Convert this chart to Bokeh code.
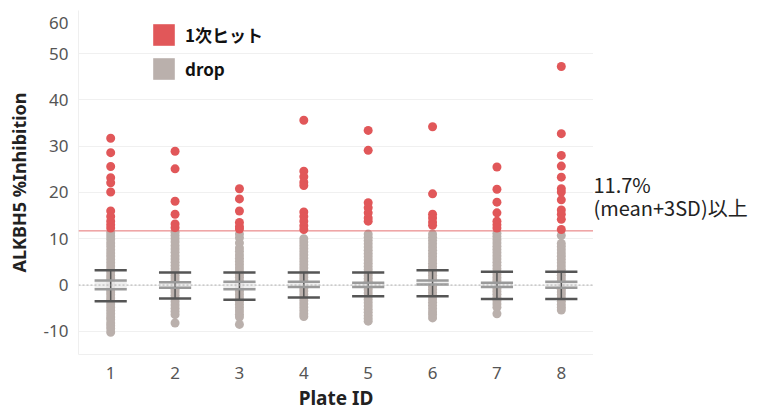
from bokeh.plotting import figure
from bokeh.layouts import row
from bokeh.models import (ColumnDataSource, FixedTicker, Span, Label, Legend, LegendItem, Range1d)
from bokeh.embed import file_html
from bokeh.resources import INLINE

# ---------------- data ----------------
plates = [1, 2, 3, 4, 5, 6, 7, 8]
threshold = 11.7

hit_values = {
    1: [31.7, 28.6, 25.6, 23.2, 22.1, 20.1, 16.0, 14.8, 13.8, 13.0, 12.3],
    2: [28.9, 25.1, 18.1, 15.3, 13.2, 12.4],
    3: [20.8, 18.6, 16.0, 13.5, 12.6, 12.1],
    4: [35.6, 24.6, 23.4, 22.2, 21.5, 15.8, 14.8, 13.8, 12.8, 12.0],
    5: [33.4, 29.1, 17.8, 16.7, 15.6, 14.5, 13.8],
    6: [34.2, 19.7, 15.3, 14.5, 13.6, 12.9],
    7: [25.5, 20.7, 17.9, 15.6, 13.8, 13.0, 12.3],
    8: [47.2, 32.7, 28.0, 25.7, 23.3, 20.8, 20.1, 18.4, 16.2, 15.3, 14.2, 12.0],
}

drop_values = {
    1: [11.3, 10.6, 9.9, 9.1, 8.4, 7.6, 6.9, 6.2, 5.5, 4.8, 4.1, 3.4, 2.8, 2.1, 1.5, 0.9, 0.3,
        -0.3, -0.9, -1.5, -2.1, -2.8, -3.4, -4.1, -4.8, -5.5, -6.2, -6.9, -7.4, -8.2, -8.8, -9.4, -10.2],
    2: [11.4, 10.7, 10.0, 9.3, 8.5, 7.8, 7.1, 6.3, 5.6, 4.9, 4.2, 3.5, 2.8, 2.1, 1.5, 0.9, 0.3,
        -0.3, -0.9, -1.5, -2.2, -2.9, -3.6, -4.3, -5.0, -5.7, -6.4, -8.2],
    3: [11.0, 10.2, 9.1, 8.0, 7.3, 6.5, 5.8, 5.1, 4.4, 3.7, 3.0, 2.3, 1.7, 1.0, 0.4, -0.2, -0.8,
        -1.4, -2.1, -2.8, -3.5, -4.2, -4.9, -5.6, -6.3, -6.9, -8.5],
    4: [10.0, 9.3, 8.6, 7.9, 7.2, 6.5, 5.8, 5.1, 4.4, 3.7, 3.0, 2.3, 1.7, 1.1, 0.5, -0.1, -0.7,
        -1.3, -2.0, -2.7, -3.4, -4.1, -4.8, -5.5, -6.2, -6.8],
    5: [11.0, 10.3, 9.6, 8.9, 8.2, 7.5, 6.8, 6.1, 5.4, 4.7, 4.0, 3.3, 2.6, 2.0, 1.4, 0.8, 0.2,
        -0.4, -1.0, -1.7, -2.4, -3.1, -3.8, -4.5, -5.2, -5.9, -6.6, -7.2, -7.8],
    6: [11.0, 10.3, 9.6, 8.9, 8.2, 7.5, 6.8, 6.1, 5.4, 4.7, 4.0, 3.3, 2.7, 2.1, 1.5, 0.9, 0.3,
        -0.3, -0.9, -1.6, -2.3, -3.0, -3.7, -4.4, -5.1, -5.8, -6.4, -7.1],
    7: [11.2, 10.5, 9.8, 9.1, 8.4, 7.7, 7.0, 6.3, 5.6, 4.9, 4.2, 3.5, 2.8, 2.2, 1.6, 1.0, 0.4,
        -0.2, -0.8, -1.4, -2.0, -2.7, -3.4, -4.1, -4.8, -6.2],
    8: [10.7, 9.0, 8.3, 7.6, 6.9, 6.2, 5.5, 4.8, 4.1, 3.4, 2.7, 2.1, 1.5, 0.9, 0.3,
        -0.3, -0.9, -1.5, -2.1, -2.8, -3.5, -4.2, -4.8, -5.4],
}

# error-bar summary per plate: +SD, inner upper, inner lower, -SD
sd_upper = [3.2, 2.7, 2.7, 2.7, 2.7, 3.2, 2.9, 2.9]
band_upper = [1.0, 0.6, 0.7, 0.7, 0.5, 1.0, 0.5, 0.7]
band_lower = [-0.9, -0.6, -0.9, -0.4, -0.4, 0.1, -0.4, -0.6]
sd_lower = [-3.5, -2.9, -3.2, -2.7, -2.4, -2.4, -3.0, -3.0]

y_ticks = [-10, 0, 10, 20, 30, 40, 50, 60]
legend_labels = ["1次ヒット", "drop"]
note_lines = [f"{threshold}%", "(mean+3SD)以上"]

# ---------------- styling ----------------
RED = "#e15759"
GRAY = "#bab0ac"
DARK = "#555555"
MID = "#9a9a9a"
cap_half = 0.25
Y_LO, Y_HI = -15, 59.3
TOP, BOTTOM = 10, 61

y_range = Range1d(Y_LO, Y_HI)
p = figure(width=593, height=415, output_backend="svg", toolbar_location=None,
           x_range=Range1d(0.5, 8.5), y_range=y_range,
           min_border_left=78, min_border_right=0, min_border_top=TOP, min_border_bottom=BOTTOM)
p.outline_line_color = None

# points
dx, dy = [], []
for pl in plates:
    for v in drop_values[pl]:
        dx.append(pl); dy.append(v)
hx, hy = [], []
for pl in plates:
    for v in hit_values[pl]:
        hx.append(pl); hy.append(v)

p.scatter(dx, dy, size=9, color=GRAY, line_color=None)
p.scatter(hx, hy, size=9, color=RED, line_color=None)

# error bars
src = ColumnDataSource(dict(
    x=plates,
    x0=[x - cap_half for x in plates],
    x1=[x + cap_half for x in plates],
    su=sd_upper, sl=sd_lower, bu=band_upper, bl=band_lower,
))
p.quad(left="x0", right="x1", bottom="bl", top="bu", source=src,
       fill_color="#ececec", fill_alpha=0.85, line_color=None)
p.segment(x0="x", x1="x", y0="sl", y1="su", source=src, line_color=DARK, line_width=1.5)
p.segment(x0="x0", x1="x1", y0="bu", y1="bu", source=src, line_color=MID, line_width=2.5)
p.segment(x0="x0", x1="x1", y0="bl", y1="bl", source=src, line_color=MID, line_width=2.5)
p.segment(x0="x0", x1="x1", y0="su", y1="su", source=src, line_color=DARK, line_width=2.5)
p.segment(x0="x0", x1="x1", y0="sl", y1="sl", source=src, line_color=DARK, line_width=2.5)

# reference lines
p.add_layout(Span(location=0, dimension="width", line_color="#b0b0b0", line_dash="2 2", line_width=1))
p.add_layout(Span(location=threshold, dimension="width", line_color=RED, line_alpha=0.85, line_width=1))

# legend (area renderers give square swatches)
nan = float("nan")
r_hit = p.quad(left=[nan], right=[nan], bottom=[nan], top=[nan], fill_color=RED, line_color=None)
r_drop = p.quad(left=[nan], right=[nan], bottom=[nan], top=[nan], fill_color=GRAY, line_color=None)
legend = Legend(items=[LegendItem(label=legend_labels[0], renderers=[r_hit]),
                       LegendItem(label=legend_labels[1], renderers=[r_drop])],
                location=(72, 272), orientation="vertical",
                glyph_width=27, glyph_height=27, label_height=27, spacing=7,
                padding=0, margin=0, border_line_color=None, background_fill_alpha=0,
                label_text_font="Noto Sans CJK JP", label_text_font_style="bold",
                label_text_font_size="17px", label_text_color="#111111", label_standoff=8)
p.add_layout(legend, "center")

# axes
p.xaxis.ticker = FixedTicker(ticks=plates)
# the top tick label sits just inside the pane, as in the source chart
tick_pos = [t if t < Y_HI else Y_HI - 2.7 for t in y_ticks]
p.yaxis.ticker = FixedTicker(ticks=tick_pos)
p.yaxis.major_label_overrides = {pos: str(t) for pos, t in zip(tick_pos, y_ticks)}
p.ygrid.ticker = FixedTicker(ticks=[t for t in y_ticks if t < Y_HI])
p.xgrid.grid_line_color = None
p.ygrid.grid_line_color = "#f0f0f0"
p.ygrid.grid_line_width = 1

for ax in (p.xaxis, p.yaxis):
    ax.major_tick_line_color = None
    ax.minor_tick_line_color = None
    ax.major_tick_out = 0
    ax.major_tick_in = 0
    ax.axis_line_color = "#efefef"
    ax.major_label_text_font = "Noto Sans"
    ax.major_label_text_font_size = "17px"
    ax.major_label_text_color = "#555555"
    ax.axis_label_text_font = "Noto Sans"
    ax.axis_label_text_font_style = "bold"
    ax.axis_label_text_color = "#222222"

p.xaxis.axis_label = "Plate ID"
p.xaxis.axis_label_text_font_size = "19px"
p.xaxis.major_label_standoff = 12
p.xaxis.axis_label_standoff = 3
p.yaxis.axis_label = "ALKBH5 %Inhibition"
p.yaxis.axis_label_text_font_size = "18px"
p.yaxis.major_label_standoff = 10
p.yaxis.axis_label_standoff = 10

# side panel for the threshold note
side = figure(width=168, height=415, output_backend="svg", toolbar_location=None,
              x_range=Range1d(0, 168), y_range=y_range,
              x_axis_location=None, y_axis_location=None,
              min_border_left=0, min_border_right=0, min_border_top=TOP, min_border_bottom=BOTTOM)
side.outline_line_color = None
side.xgrid.grid_line_color = None
side.ygrid.grid_line_color = None
side.add_layout(Label(x=0, y=21.8, text=note_lines[0], text_font="Noto Sans CJK JP",
                      text_font_size="20px", text_color="#222222", text_baseline="middle"))
side.add_layout(Label(x=0, y=16.8, text=note_lines[1], text_font="Noto Sans CJK JP",
                      text_font_size="20px", text_color="#222222", text_baseline="middle"))

layout = row(p, side)
open("out.html", "w").write(file_html(layout, INLINE))
